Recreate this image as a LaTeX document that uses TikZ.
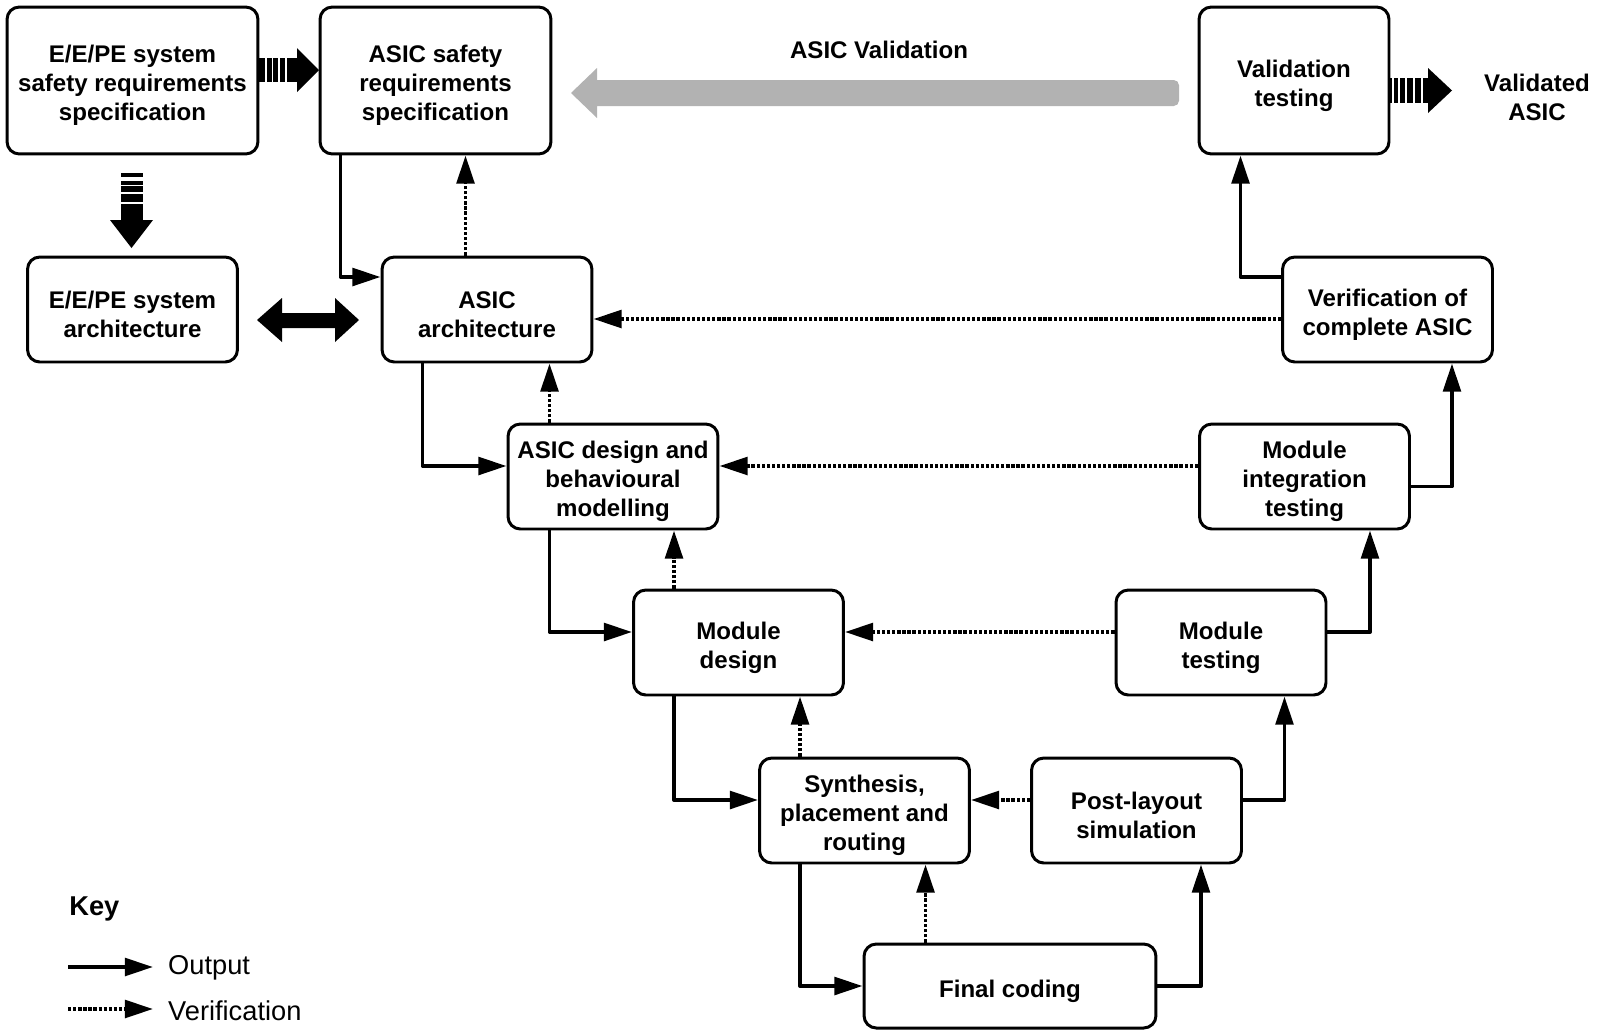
\documentclass[tikz,border=0pt]{standalone}
\usepackage{fontspec}
\setmainfont{Liberation Sans}
\usetikzlibrary{arrows.meta, positioning, calc}
\definecolor{valgray}{RGB}{178, 178, 178}
\newcommand{\boxstrut}{\rule{0pt}{15.6pt}}

\tikzset{
  stage/.style={draw, line width=1.7pt, rounded corners=7pt, align=center,
    minimum width=4.2cm, minimum height=2.1cm, inner sep=2pt,
    font=\bfseries\fontsize{13.7}{16.4}\selectfont},
  outarrow/.style={line width=2.2pt, line join=round, -{Triangle[length=16pt, width=10pt]}},
  verarrow/.style={line width=2.2pt, dash pattern=on 1.9pt off 1pt,
    -{Triangle[length=16pt, width=10pt]}},
  keytext/.style={font=\fontsize{15.5}{18}\selectfont, anchor=west}
}

\begin{document}
\begin{tikzpicture}[x=0.02cm, y=-0.02cm]
  \useasboundingbox (0,0) rectangle (1599,1035);

  % left branch
  \node[stage, minimum width=5.02cm, minimum height=2.94cm] (sysreq) at (132.5,80.5) {\boxstrut E/E/PE system\\safety requirements\\specification};
  \node[stage, minimum width=4.62cm, minimum height=2.94cm] (asicreq) at (435.5,80.5) {\boxstrut ASIC safety\\requirements\\specification};
  \node[stage] (sysarch) at (132.5,309.5) {\boxstrut E/E/PE system\\architecture};
  \node[stage] (asicarch) at (487,309.5) {\boxstrut ASIC\\architecture};
  \node[stage] (design) at (613,476.5) {\boxstrut ASIC design and\\behavioural\\modelling};
  \node[stage] (moddesign) at (738.5,642.5) {\boxstrut Module\\design};
  \node[stage] (synth) at (864.5,810.5) {\boxstrut Synthesis,\\placement and\\routing};
  \node[stage, minimum width=5.84cm, minimum height=1.68cm] (coding) at (1010,986) {\boxstrut Final coding};

  % right branch
  \node[stage] (postlayout) at (1136.5,810.5) {\boxstrut Post-layout\\simulation};
  \node[stage] (modtest) at (1221,642.5) {\boxstrut Module\\testing};
  \node[stage] (integ) at (1304.5,476.5) {\boxstrut Module\\integration\\testing};
  \node[stage] (verif) at (1387.5,309.5) {\boxstrut Verification of\\complete ASIC};
  \node[stage, minimum width=3.8cm, minimum height=2.94cm] (valtest) at (1294,80.5) {\boxstrut Validation\\testing};

  \node[font=\bfseries\fontsize{13.7}{16.4}\selectfont, align=center] (validated) at (1537,97) {Validated\\ASIC};
  \node[font=\bfseries\fontsize{13.7}{16.4}\selectfont] (vallabel) at (879,50) {ASIC Validation};

  % validation arrow
  \fill[valgray] (571,93) -- (597,68) -- (597,80) [rounded corners=3pt] -- (1179,80) -- (1179,106) [sharp corners] -- (597,106) -- (597,118) -- cycle;

  % fat arrows
  \fill (259,58) rectangle (298,82);
  \fill (297,48) -- (319,70) -- (297,92) -- cycle;
  \foreach \x in {266,272.5,279,286}
    \draw[white, line width=0.6pt] (\x,57) -- (\x,83);

  \fill (121,173) rectangle (143,221);
  \fill (110,220) -- (153,220) -- (131.5,248) -- cycle;
  \draw[white, line width=2pt] (120,179) -- (144,179);
  \foreach \y in {185.5,193,203}
    \draw[white, line width=0.6pt] (120,\y) -- (144,\y);

  \fill (1388,78) rectangle (1429,103);
  \fill (1428,68) -- (1452,90.5) -- (1428,113) -- cycle;
  \foreach \x in {1393,1399,1406,1414,1422}
    \draw[white, line width=0.6pt] (\x,77) -- (\x,104);

  \fill (257,320) -- (282,298) -- (282,313) -- (335,313) -- (335,298) -- (359,320)
    -- (335,342) -- (335,328) -- (282,328) -- (282,342) -- cycle;

  % outputs
  \draw[outarrow] ([xshift=0.44cm]asicreq.south west) |- ([yshift=0.65cm]asicarch.west);
  \draw[outarrow] ([xshift=0.84cm]asicarch.south west) |- ([yshift=0.21cm]design.west);
  \draw[outarrow] ([xshift=0.86cm]design.south west) |- ([yshift=0.21cm]moddesign.west);
  \draw[outarrow] ([xshift=0.84cm]moddesign.south west) |- ([yshift=0.21cm]synth.west);
  \draw[outarrow] ([xshift=0.84cm]synth.south west) |- (coding.west);
  \draw[outarrow] (coding.east) -| ([xshift=-0.84cm]postlayout.south east);
  \draw[outarrow] ([yshift=0.21cm]postlayout.east) -| ([xshift=-0.86cm]modtest.south east);
  \draw[outarrow] ([yshift=0.21cm]modtest.east) -| ([xshift=-0.82cm]integ.south east);
  \draw[outarrow] ([yshift=-0.2cm]integ.east) -| ([xshift=-0.84cm]verif.south east);
  \draw[outarrow] ([yshift=0.65cm]verif.west) -| ([xshift=0.86cm]valtest.south west);

  % verification
  \draw[verarrow] ([xshift=1.7cm]asicarch.north west) -- ([xshift=1.7cm]asicarch.north west |- asicreq.south);
  \draw[verarrow] ([xshift=0.86cm]design.north west) -- ([xshift=0.86cm]design.north west |- asicarch.south);
  \draw[verarrow] ([xshift=0.84cm]moddesign.north west) -- ([xshift=0.84cm]moddesign.north west |- design.south);
  \draw[verarrow] ([xshift=0.84cm]synth.north west) -- ([xshift=0.84cm]synth.north west |- moddesign.south);
  \draw[verarrow] ([xshift=1.26cm]coding.north west) -- ([xshift=1.26cm]coding.north west |- synth.south);
  \draw[verarrow] ([yshift=0.21cm]postlayout.west) -- ([yshift=0.21cm]synth.east);
  \draw[verarrow] ([yshift=0.21cm]modtest.west) -- ([yshift=0.21cm]moddesign.east);
  \draw[verarrow] ([yshift=0.21cm]integ.west) -- ([yshift=0.21cm]design.east);
  \draw[verarrow] ([yshift=-0.19cm]verif.west) -- ([yshift=-0.19cm]asicarch.east);

  % key
  \node[keytext, font=\bfseries\fontsize{15.5}{18}\selectfont, inner sep=0pt] (keytitle) at (69,909) {Key};
  \coordinate (outstart) at (68,967);
  \coordinate (outend) at (153,967);
  \coordinate (verstart) at (68,1009);
  \coordinate (verend) at (153,1009);
  \draw[outarrow] (outstart) -- (outend);
  \draw[verarrow] (verstart) -- (verend);
  \node[keytext] (outlabel) at (162,968) {Output};
  \node[keytext] (verlabel) at (162,1011) {Verification};
\end{tikzpicture}
\end{document}
